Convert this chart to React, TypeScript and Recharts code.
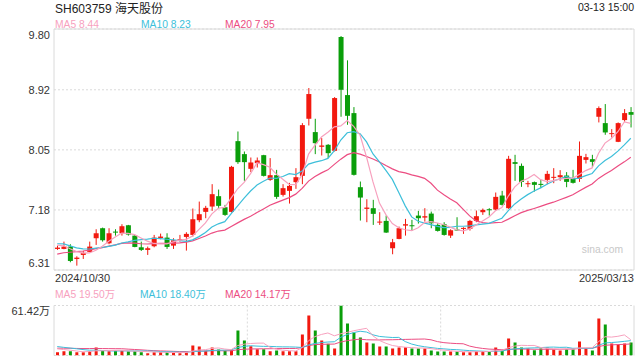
import React from 'react';
import {
  ComposedChart,
  Bar,
  Line,
  XAxis,
  YAxis,
  CartesianGrid,
  ReferenceArea,
  ReferenceLine,
  Cell,
} from 'recharts';

// ---- data ----
const opens = [
  6.615, 6.615, 6.649, 6.47, 6.528, 6.572, 6.77, 6.915, 6.697, 6.866,
  6.842, 6.958, 6.808, 6.639, 6.601, 6.654, 6.774, 6.779, 6.663, 6.75,
  6.789, 6.818, 7.031, 7.152, 7.229, 7.379, 7.219, 7.152, 8.176, 7.988,
  7.775, 7.857, 7.973, 7.615, 7.683, 7.398, 7.456, 7.582, 7.673, 8.5,
  8.307, 8.094, 8.123, 8.036, 9.684, 8.843, 8.582, 7.509, 7.195, 7.205,
  6.997, 7.021, 6.625, 6.76, 6.953, 6.958, 7.098, 7.069, 7.127, 6.963,
  6.973, 6.808, 6.896, 6.905, 6.905, 7.021, 7.147, 7.19, 7.185, 7.388,
  7.205, 7.872, 7.818, 7.553, 7.582, 7.557, 7.615, 7.649, 7.654, 7.678,
  7.644, 7.63, 7.905, 7.915, 8.529, 8.437, 8.278, 8.166, 8.481, 8.597,
];
const highs = [
  6.663, 6.721, 6.683, 6.509, 6.586, 6.721, 6.9, 6.924, 6.915, 6.9,
  6.973, 6.963, 6.818, 6.721, 6.649, 6.818, 6.837, 6.842, 6.77, 6.818,
  6.857, 7.2, 7.301, 7.239, 7.553, 7.475, 7.253, 7.818, 8.316, 8.026,
  7.939, 7.939, 7.978, 7.93, 7.76, 7.553, 7.572, 7.785, 8.437, 8.945,
  8.5, 8.22, 8.133, 8.814, 9.698, 9.346, 8.669, 7.591, 7.335, 7.326,
  7.147, 7.098, 6.76, 6.939, 7.05, 7.036, 7.166, 7.205, 7.156, 6.987,
  7.002, 6.9, 7.074, 6.929, 7.036, 7.171, 7.2, 7.205, 7.432, 7.456,
  7.963, 7.978, 7.852, 7.601, 7.591, 7.615, 7.746, 7.785, 7.756, 7.727,
  7.76, 8.171, 7.992, 7.978, 8.679, 8.713, 8.35, 8.447, 8.64, 8.669,
];
const lows = [
  6.601, 6.61, 6.422, 6.373, 6.47, 6.567, 6.673, 6.721, 6.683, 6.808,
  6.808, 6.808, 6.639, 6.586, 6.528, 6.639, 6.755, 6.615, 6.615, 6.721,
  6.591, 6.794, 7.002, 7.06, 7.166, 7.205, 7.094, 7.142, 7.847, 7.601,
  7.727, 7.794, 7.664, 7.601, 7.34, 7.374, 7.272, 7.485, 7.553, 8.403,
  7.988, 7.968, 7.93, 8.026, 8.529, 8.413, 7.678, 7.026, 7.002, 6.963,
  6.963, 6.847, 6.538, 6.755, 6.808, 6.876, 6.982, 7.011, 6.915, 6.866,
  6.808, 6.774, 6.876, 6.833, 6.881, 7.002, 7.108, 7.098, 7.171, 7.243,
  7.195, 7.601, 7.514, 7.509, 7.446, 7.495, 7.553, 7.567, 7.601, 7.509,
  7.562, 7.586, 7.852, 7.799, 8.447, 8.268, 8.229, 8.162, 8.456, 8.374,
];
const closes = [
  6.634, 6.649, 6.441, 6.489, 6.557, 6.649, 6.842, 6.741, 6.842, 6.857,
  6.944, 6.823, 6.644, 6.601, 6.625, 6.779, 6.794, 6.644, 6.741, 6.755,
  6.833, 7.045, 7.118, 7.21, 7.408, 7.239, 7.108, 7.804, 7.872, 7.872,
  7.867, 7.896, 7.673, 7.683, 7.369, 7.495, 7.528, 7.654, 8.408, 8.858,
  8.147, 8.113, 8.002, 8.8, 8.92, 8.543, 7.688, 7.359, 7.214, 7.123,
  7.011, 6.852, 6.712, 6.915, 6.973, 6.944, 7.06, 7.089, 6.987, 6.876,
  6.818, 6.886, 6.886, 6.92, 7.021, 7.089, 7.181, 7.181, 7.369, 7.253,
  7.92, 7.847, 7.586, 7.567, 7.543, 7.548, 7.702, 7.659, 7.683, 7.586,
  7.572, 7.963, 7.944, 7.876, 8.655, 8.302, 8.292, 8.437, 8.582, 8.558,
];
// volume in 万
const volumes = [
  4.1, 5.3, 5.3, 4.1, 4.1, 5.3, 9.8, 5.7, 5.3, 5.7,
  5.7, 5.3, 5.3, 4.1, 2.9, 4.1, 4.1, 4.1, 3.3, 2.9,
  4.1, 12.3, 11.1, 5.7, 9.8, 7.4, 5.7, 7.4, 30.7, 18.4,
  11.5, 7.8, 7.8, 5.3, 6.1, 5.3, 5.3, 5.3, 25.8, 49.1,
  30.7, 18.4, 14.3, 8.6, 61.42, 39.3, 28.3, 22.1, 16.0, 14.7,
  11.1, 11.1, 8.6, 9.8, 10.2, 8.6, 8.6, 8.6, 6.1, 4.9,
  4.9, 4.9, 4.9, 4.1, 4.1, 5.3, 5.3, 5.3, 9.8, 6.1,
  20.9, 16.0, 9.8, 8.6, 6.6, 8.6, 9.8, 7.4, 6.1, 7.8,
  7.8, 17.2, 8.6, 6.1, 45.5, 38.1, 14.7, 13.5, 14.7, 16.0,
];
// sessions before the first visible candle (needed for the moving averages)
const priorCloses = [
  6.25, 6.3, 6.32, 6.36, 6.4, 6.42, 6.44, 6.43, 6.46, 6.52,
  6.66, 6.74, 6.78, 6.7, 6.67, 6.7, 6.66, 6.69, 6.67,
];
const priorVolumes = [6, 7, 8, 7, 6, 7, 8, 7, 7, 7, 15, 14, 13, 14, 13, 10, 9, 9, 8.9];

const priceTicks = [6.31, 7.18, 8.05, 8.92, 9.8];
const volTicks = [0, 61.42];
const dateLabels = ['2024/10/30', '2025/03/13'];
const title = 'SH603759 海天股份';
const timeLabel = '03-13 15:00';
const priceLegend = ['MA5 8.44', 'MA10 8.23', 'MA20 7.95'];
const volLegend = ['MA5 19.50万', 'MA10 18.40万', 'MA20 14.17万'];

// ---- styles ----
const RED = '#F2190F';
const GREEN = '#0A9E0A';
const C_MA5 = '#F7A1BE';
const C_MA10 = '#3DBFDA';
const C_MA20 = '#EC4D82';
const GRID = '#DADADA';
const FONT = "'Liberation Sans', Arial, 'Noto Sans CJK SC', sans-serif";

const movingAvg = (series: number[], prior: number[], n: number) => {
  const all = [...prior, ...series];
  return series.map((_, i) => {
    const end = prior.length + i;
    let s = 0;
    for (let k = end - n + 1; k <= end; k++) s += all[k];
    return s / n;
  });
};

const ma5 = movingAvg(closes, priorCloses, 5);
const ma10 = movingAvg(closes, priorCloses, 10);
const ma20 = movingAvg(closes, priorCloses, 20);
const vma5 = movingAvg(volumes, priorVolumes, 5);
const vma10 = movingAvg(volumes, priorVolumes, 10);
const vma20 = movingAvg(volumes, priorVolumes, 20);

const data = closes.map((c, i) => ({
  idx: i,
  open: opens[i],
  high: highs[i],
  low: lows[i],
  close: c,
  range: [lows[i], highs[i]],
  vol: volumes[i],
  up: c >= opens[i],
  ma5: ma5[i],
  ma10: ma10[i],
  ma20: ma20[i],
  vma5: vma5[i],
  vma10: vma10[i],
  vma20: vma20[i],
}));

const Candle = (props: any) => {
  const { x, y, width, height, payload } = props;
  if (!payload || x == null) return null;
  const { open, close, high, low } = payload;
  const color = close >= open ? RED : GREEN;
  const top = Math.min(y, y + height);
  const h = Math.abs(height);
  const span = high - low;
  const pos = (v: number) => (span > 0 ? top + ((high - v) / span) * h : top);
  const cx = x + width / 2;
  const bTop = pos(Math.max(open, close));
  const bBot = pos(Math.min(open, close));
  return (
    <g>
      <line x1={cx} x2={cx} y1={top} y2={top + h} stroke={color} strokeWidth={1} />
      <rect x={x} y={bTop} width={width} height={Math.max(1, bBot - bTop)} fill={color} />
    </g>
  );
};

const PriceTick = (props: any) => {
  const { x, y, payload } = props;
  const v = payload.value;
  let dy = 4;
  if (v === priceTicks[priceTicks.length - 1]) dy = 9.5;
  if (v === priceTicks[0]) dy = -3;
  return (
    <text x={x} y={y} dy={dy} textAnchor="end" fontSize={11} fill="#333" fontFamily={FONT}>
      {v.toFixed(2)}
    </text>
  );
};

const VolTick = (props: any) => {
  const { x, y, payload } = props;
  const v = payload.value;
  const isTop = v === volTicks[1];
  return (
    <text x={x} y={y} dy={isTop ? 9.5 : -3.5} textAnchor="end" fontSize={11} fill="#333" fontFamily={FONT}>
      {isTop ? `${v.toFixed(2)}万` : '0'}
    </text>
  );
};

const DateTick = (props: any) => {
  const { x, y, payload } = props;
  const first = payload.value === 0;
  return (
    <text
      x={first ? x - 2.2 : x + 3.2}
      y={y}
      dy={12}
      textAnchor={first ? 'start' : 'end'}
      fontSize={11}
      fill="#333"
      fontFamily={FONT}
    >
      {first ? dateLabels[0] : dateLabels[1]}
    </text>
  );
};

export default function App() {
  return (
    <div style={{ position: 'absolute', left: 0, top: 0, width: 640, height: 360, background: '#fff', fontFamily: FONT }}>
      <svg width={640} height={360} style={{ position: 'absolute', left: 0, top: 0 }}>
        <text x={55} y={12.7} fontSize={12} fill="#222" fontFamily={FONT}>{title}</text>
        <text x={634} y={10.5} fontSize={10.5} fill="#222" textAnchor="end" fontFamily={FONT}>{timeLabel}</text>
        <text x={55} y={27.5} fontSize={10.3} fill={C_MA5} fontFamily={FONT}>{priceLegend[0]}</text>
        <text x={141} y={27.5} fontSize={10.3} fill={C_MA10} fontFamily={FONT}>{priceLegend[1]}</text>
        <text x={225} y={27.5} fontSize={10.3} fill={C_MA20} fontFamily={FONT}>{priceLegend[2]}</text>
        <text x={55} y={298} fontSize={10.3} fill={C_MA5} fontFamily={FONT}>{volLegend[0]}</text>
        <text x={140} y={298} fontSize={10.3} fill={C_MA10} fontFamily={FONT}>{volLegend[1]}</text>
        <text x={225} y={298} fontSize={10.3} fill={C_MA20} fontFamily={FONT}>{volLegend[2]}</text>
        <text x={623} y={253} fontSize={10.3} fill="#C8C8C8" textAnchor="end" fontFamily={FONT}>sina.com</text>
      </svg>

      <div style={{ position: 'absolute', left: 0, top: 0 }}>
        <ComposedChart width={640} height={290} data={data} margin={{ top: 29, right: 6, bottom: 0, left: 0 }}>
          <CartesianGrid vertical={false} stroke={GRID} strokeDasharray="2 2" />
          <ReferenceArea y1={priceTicks[0]} y2={priceTicks[priceTicks.length - 1]} fill="none" stroke={GRID} strokeWidth={1} ifOverflow="visible" />
          <XAxis
            dataKey="idx"
            type="category"
            ticks={[0, data.length - 1]}
            interval={0}
            tick={<DateTick />}
            tickLine={false}
            axisLine={false}
            tickSize={0}
            tickMargin={0}
            height={20}
          />
          <YAxis
            domain={[priceTicks[0], priceTicks[priceTicks.length - 1]]}
            ticks={priceTicks}
            allowDataOverflow
            width={54}
            tick={<PriceTick />}
            tickLine={false}
            axisLine={false}
            tickSize={0}
            tickMargin={4}
          />
          <Bar dataKey="range" barSize={5} shape={<Candle />} isAnimationActive={false} />
          <Line type="linear" dataKey="ma20" stroke={C_MA20} strokeWidth={1.2} dot={false} isAnimationActive={false} />
          <Line type="linear" dataKey="ma10" stroke={C_MA10} strokeWidth={1.2} dot={false} isAnimationActive={false} />
          <Line type="linear" dataKey="ma5" stroke={C_MA5} strokeWidth={1.2} dot={false} isAnimationActive={false} />
        </ComposedChart>
      </div>

      <div style={{ position: 'absolute', left: 0, top: 0 }}>
        <ComposedChart width={640} height={360} data={data} margin={{ top: 305.5, right: 6, bottom: 4.5, left: 0 }}>
          <CartesianGrid vertical={false} stroke={GRID} strokeDasharray="2 2" />
          <XAxis dataKey="idx" type="category" hide />
          <YAxis
            domain={[volTicks[0], volTicks[1]]}
            ticks={volTicks}
            allowDataOverflow
            width={54}
            tick={<VolTick />}
            tickLine={false}
            axisLine={false}
            tickSize={0}
            tickMargin={4}
          />
          <ReferenceLine x={0} position="start" stroke={GRID} />
          <ReferenceLine x={data.length - 1} position="end" stroke={GRID} />
          <ReferenceLine x={30} position="start" stroke={GRID} strokeDasharray="2 2" />
          <ReferenceLine x={60} position="start" stroke={GRID} strokeDasharray="2 2" />
          <Bar dataKey="vol" barSize={3} isAnimationActive={false}>
            {data.map((d) => (
              <Cell key={d.idx} fill={d.up ? RED : GREEN} />
            ))}
          </Bar>
          <Line type="linear" dataKey="vma20" stroke={C_MA20} strokeWidth={1} dot={false} isAnimationActive={false} />
          <Line type="linear" dataKey="vma10" stroke={C_MA10} strokeWidth={1} dot={false} isAnimationActive={false} />
          <Line type="linear" dataKey="vma5" stroke={C_MA5} strokeWidth={1} dot={false} isAnimationActive={false} />
        </ComposedChart>
      </div>
    </div>
  );
}
